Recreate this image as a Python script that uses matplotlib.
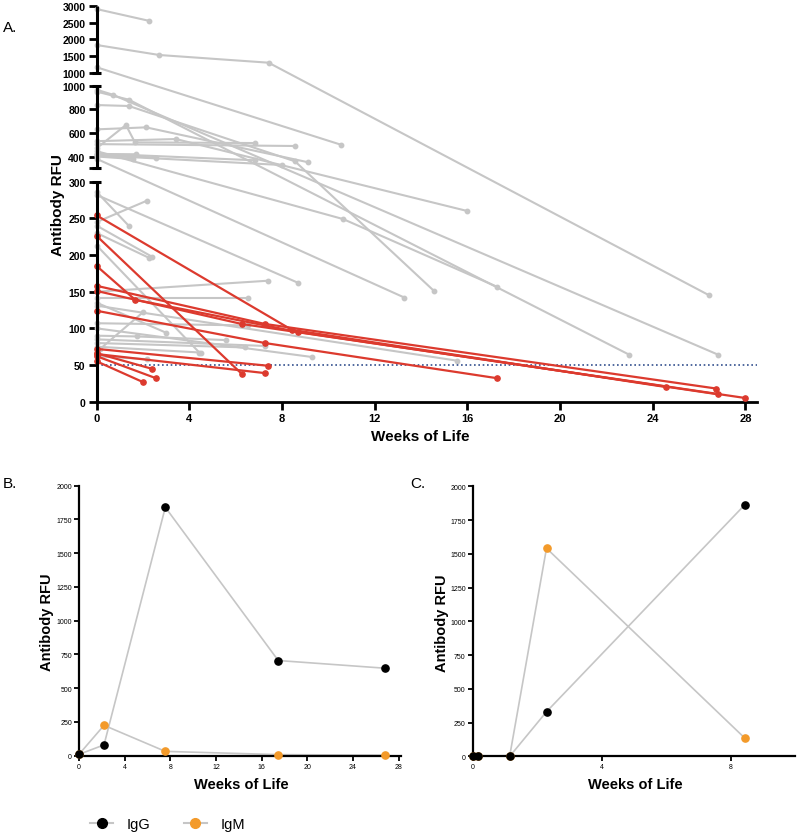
import numpy as np
import matplotlib
matplotlib.use('Agg')
import matplotlib.pyplot as plt
from matplotlib.lines import Line2D
from matplotlib.ticker import FixedLocator, FixedFormatter

plt.rcParams['font.family'] = ['Liberation Sans', 'DejaVu Sans']

# ---------------- Panel A data (weeks, RFU) ----------------
gray_weeks = [
    [0, 2.26], [0, 2.7, 7.42, 26.44], [0, 10.54], [0, 0.69, 26.83],
    [0, 1.39, 22.99], [0, 1.39, 8.56, 14.56], [0, 2.13, 9.13],
    [0, 1.26, 1.65, 6.85], [0, 3.42, 16.0], [0, 8.56], [0, 10.64, 17.26],
    [0, 1.7], [0, 2.56], [0, 1.55], [0, 6.83], [0, 7.98], [0, 13.28],
    [0, 1.41], [0, 8.7], [0, 2.16], [0, 2.37], [0, 2.27], [0, 4.43],
    [0, 7.41], [0, 6.54], [0, 6.54], [0.15, 2.0], [0, 3.0], [0, 1.73, 5.6],
    [0, 6.4], [0, 7.26], [0, 4.5], [0, 9.28], [0, 15.54], [0, 2.16],
]
gray_rfu = [
    [2900, 2550], [1832, 1535, 1306, 145], [1170, 500], [966, 924, 64],
    [950, 881, 64], [836, 828, 359, 151], [630, 647, 351],
    [470, 667, 520, 514], [530, 548, 260], [505, 489], [445, 249, 157],
    [420, 419], [415, 390], [400, 379], [425, 368], [410, 328], [380, 142],
    [286, 239], [282, 162], [245, 274], [240, 198], [230, 196], [213, 67],
    [150, 165], [142, 142], [107, 104], [72, 122], [135, 94], [90, 89, 84],
    [80, 74], [85, 76], [75, 67], [100, 61], [131, 56], [62, 58],
]
red_weeks = [
    [0, 8.42, 24.57], [0, 6.26], [0, 7.26, 26.73], [0, 6.26, 28.0],
    [0, 1.66, 8.7, 26.83], [0, 7.26, 17.29], [0, 7.4], [0, 7.26],
    [0, 1.98], [0, 2.56], [0, 2.37],
]
red_rfu = [
    [254, 98, 20], [226, 38], [158, 106, 18], [151, 106, 5],
    [185, 139, 95, 10], [124, 80, 32], [72, 49], [65, 39],
    [55, 27], [62, 32], [66, 45],
]
threshold = 50
a_xticks = [0, 4, 8, 12, 16, 20, 24, 28]
a_yticks = [0, 50, 100, 150, 200, 250, 300, 300.0001, 400, 600, 800, 1000,
            1000.0001, 1500, 2000, 2500, 3000]
a_ylabels = ['0', '50', '100', '150', '200', '250', '300', '', '400', '600',
             '800', '1000', '1000', '1500', '2000', '2500', '3000']

# ---------------- Panel B / C data ----------------
b_weeks = [0, 2.19, 7.56, 17.45, 26.8]
b_igg = [10, 80, 1840, 705, 648]
b_igm = [10, 225, 32, 8, 4]
c_weeks = [0, 0.15, 1.15, 2.29, 8.45]
c_igg = [0, 0, 0, 330, 1865]
c_igm = [0, 0, 5, 1541, 133]
bc_yticks = [0, 250, 500, 750, 1000, 1250, 1500, 1750, 2000]
b_xticks = [0, 4, 8, 12, 16, 20, 24, 28]
c_xticks = [0, 4, 8]

GRAY = '#c6c6c6'
RED = '#dc3a2e'
ORANGE = '#f39a2a'

# broken y-axis mapping for panel A
seg_v = np.array([0, 300, 300.0001, 1000, 1000.0001, 3000])
seg_u = np.array([0, 220, 233.4, 316, 328.7, 396])


def fwd(v):
    v = np.asarray(v, float)
    u = np.interp(v, seg_v, seg_u)
    u = np.where(v < 0, v * (220 / 300), u)
    u = np.where(v > 3000, 396 + (v - 3000) * (67.3 / 2000), u)
    return u


def inv(u):
    u = np.asarray(u, float)
    v = np.interp(u, seg_u, seg_v)
    v = np.where(u < 0, u * (300 / 220), v)
    v = np.where(u > 396, 3000 + (u - 396) * (2000 / 67.3), v)
    return v


W, H = 800, 837
fig = plt.figure(figsize=(W / 100, H / 100), dpi=100)


def rect(x0, yt, x1, yb):
    return [x0 / W, 1 - yb / H, (x1 - x0) / W, (yb - yt) / H]


# ---------------- Panel A ----------------
axA = fig.add_axes(rect(96.7, 6.7, 757, 402.7))
axA.set_yscale('function', functions=(fwd, inv))
axA.set_xlim(0, 28.5)
axA.set_ylim(0, 3000)

for wk, rf in zip(gray_weeks, gray_rfu):
    axA.plot(wk, rf, color=GRAY, lw=1.5, marker='o', ms=3.2, mec=GRAY,
             mfc=GRAY, clip_on=False, zorder=2)
axA.axhline(threshold, color='#34508f', lw=1.2, ls=(0, (1, 1.6)), zorder=3)
for wk, rf in zip(red_weeks, red_rfu):
    axA.plot(wk, rf, color=RED, lw=1.6, marker='o', ms=3.8, mec=RED,
             mfc=RED, clip_on=False, zorder=4)

for s in ['top', 'right', 'left']:
    axA.spines[s].set_visible(False)
axA.spines['bottom'].set_linewidth(2)
ytr = axA.get_yaxis_transform()
for a, b in [(0, 300), (300.0001, 1000), (1000.0001, 3000)]:
    axA.plot([0, 0], [a, b], color='k', lw=2.2, transform=ytr, clip_on=False,
             zorder=6, solid_capstyle='butt')
for c in [300, 300.0001, 1000, 1000.0001]:
    axA.plot([-0.0065, 0.0065], [c, c], color='k', lw=2.2, transform=ytr,
             clip_on=False, zorder=6, solid_capstyle='butt')

axA.yaxis.set_major_locator(FixedLocator(a_yticks))
axA.yaxis.set_major_formatter(FixedFormatter(a_ylabels))
axA.yaxis.set_minor_locator(FixedLocator([]))
axA.set_xticks(a_xticks)
axA.tick_params(axis='both', direction='out', length=6, width=2, pad=2)
for lab in axA.get_yticklabels():
    lab.set_fontsize(7.5)
    lab.set_fontweight('bold')
for lab in axA.get_xticklabels():
    lab.set_fontsize(8)
    lab.set_fontweight('bold')

fig.text(58 / W, 1 - 205 / H, 'Antibody RFU', rotation=90, ha='center',
         va='center', fontsize=11, fontweight='bold')
fig.text(420 / W, 1 - 437 / H, 'Weeks of Life', ha='center', va='center',
         fontsize=11, fontweight='bold')
fig.text(3 / W, 1 - 27.5 / H, 'A.', ha='left', va='center', fontsize=11)


# ---------------- Panels B and C ----------------
def small_panel(ax, wk, igg, igm, xmax, xticks):
    ax.plot(wk, igg, color=GRAY, lw=1.2, zorder=2)
    ax.plot(wk, igm, color=GRAY, lw=1.2, zorder=2)
    ax.plot(wk, igm, ls='none', marker='o', ms=5.2, color=ORANGE,
            clip_on=False, zorder=4)
    ax.plot(wk, igg, ls='none', marker='o', ms=5.2, color='black',
            clip_on=False, zorder=5)
    ax.set_xlim(0, xmax)
    ax.set_ylim(0, 2000)
    ax.set_xticks(xticks)
    ax.set_yticks(bc_yticks)
    for s in ['top', 'right']:
        ax.spines[s].set_visible(False)
    for s in ['left', 'bottom']:
        ax.spines[s].set_linewidth(1.6)
    ax.tick_params(axis='both', direction='out', length=3.5, width=1.3,
                   labelsize=5, pad=1.5)


axB = fig.add_axes(rect(79, 486.7, 401, 756.7))
small_panel(axB, b_weeks, b_igg, b_igm, 28.2, b_xticks)
axC = fig.add_axes(rect(472.7, 487.3, 795, 757.3))
small_panel(axC, c_weeks, c_igg, c_igm, 10, c_xticks)

fig.text(47.5 / W, 1 - 622.5 / H, 'Antibody RFU', rotation=90, ha='center',
         va='center', fontsize=10.5, fontweight='bold')
fig.text(241.7 / W, 1 - 785 / H, 'Weeks of Life', ha='center', va='center',
         fontsize=10.5, fontweight='bold')
fig.text(442 / W, 1 - 623 / H, 'Antibody RFU', rotation=90, ha='center',
         va='center', fontsize=10.5, fontweight='bold')
fig.text(635 / W, 1 - 785 / H, 'Weeks of Life', ha='center', va='center',
         fontsize=10.5, fontweight='bold')
fig.text(3 / W, 1 - 484 / H, 'B.', ha='left', va='center', fontsize=11)
fig.text(410 / W, 1 - 484 / H, 'C.', ha='left', va='center', fontsize=11)

handles = [
    Line2D([], [], color=GRAY, lw=1.5, marker='o', ms=7, mfc='black',
           mec='black'),
    Line2D([], [], color=GRAY, lw=1.5, marker='o', ms=7, mfc=ORANGE,
           mec=ORANGE),
]
fig.legend(handles, ['IgG', 'IgM'], loc='center left',
           bbox_to_anchor=(90 / W, 1 - 825 / H), ncol=2, frameon=False,
           fontsize=10.5, handlelength=1.6, handletextpad=0.9,
           columnspacing=2.3, borderpad=0, borderaxespad=0)

fig.savefig('out.png', dpi=100)
